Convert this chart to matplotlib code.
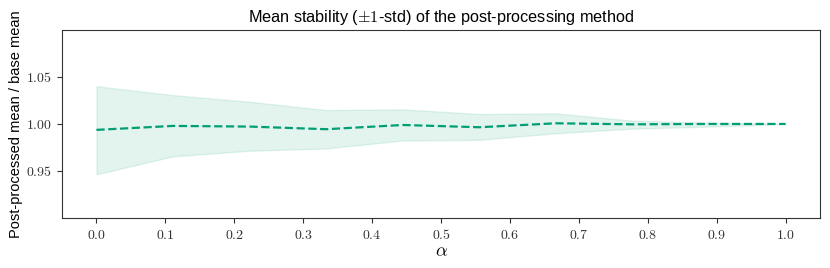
import numpy as np
import matplotlib
matplotlib.use("Agg")
import matplotlib.pyplot as plt
from matplotlib.ticker import FuncFormatter

plt.rcParams['mathtext.fontset'] = 'cm'
plt.rcParams['font.family'] = ['Liberation Sans', 'DejaVu Sans']

# alpha grid and mean ratio (post-processed / base), with +-1 std band
alphas = np.linspace(0, 1, 10)
mean_ratio = [0.9937, 0.9979, 0.9972, 0.9944, 0.9989, 0.9965, 1.0007, 0.9996, 1.0000, 1.0000]
upper = [1.0402, 1.0307, 1.0236, 1.0148, 1.0155, 1.0106, 1.0113, 1.0035, 1.0014, 1.0000]
lower = [0.9464, 0.9655, 0.9715, 0.9739, 0.9824, 0.9831, 0.9901, 0.9950, 0.9972, 1.0000]

x_ticks = np.arange(0, 1.01, 0.1)
y_ticks = [0.95, 1.00, 1.05]

color = '#009E73'

fig = plt.figure(figsize=(8.3, 2.68), dpi=100)
ax = fig.add_axes([0.0747, 0.187, 0.9133, 0.701])
ax.fill_between(alphas, lower, upper, color=color, alpha=0.11, linewidth=1)
ax.plot(alphas, mean_ratio, '--', color=color, lw=1.6)

ax.set_ylim(0.9, 1.1)
ax.set_xticks(x_ticks)
ax.set_yticks(y_ticks)
ax.xaxis.set_major_formatter(FuncFormatter(lambda v, p: r'$%.1f$' % v))
ax.yaxis.set_major_formatter(FuncFormatter(lambda v, p: r'$%.2f$' % v))
ax.tick_params(labelsize=10, colors='#333333')
for s in ax.spines.values():
    s.set_color('#333333')

ax.set_title(r'Mean stability ($\pm 1$-std) of the post-processing method', fontsize=11.7)
ax.set_xlabel(r'$\alpha$', fontsize=13, labelpad=1)
ax.set_ylabel('Post-processed mean / base mean', fontsize=10.5, labelpad=2)

fig.savefig('out.png', dpi=100)
